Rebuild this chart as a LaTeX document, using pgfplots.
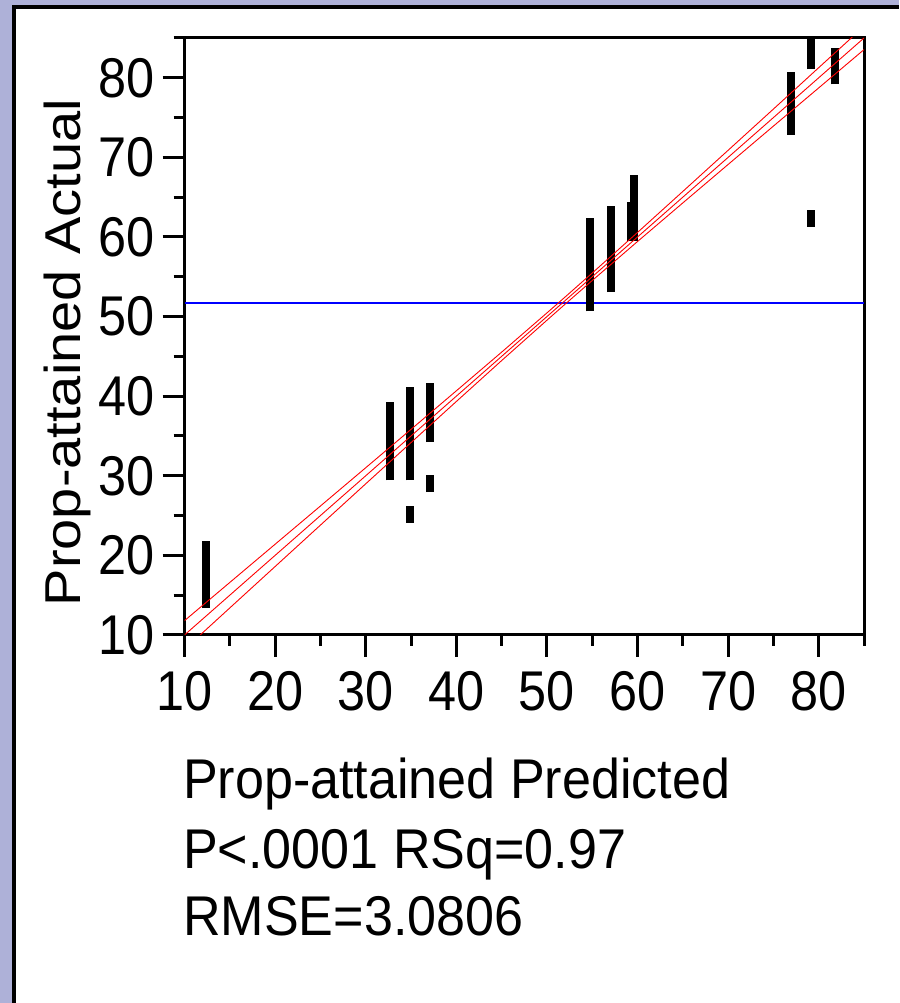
\documentclass[border=0pt]{standalone}
\usepackage{pgfplots}
\pgfplotsset{compat=1.18}
\usepackage{fontspec}
\setmainfont{Liberation Sans}[FakeStretch=0.9]
\newfontfamily\plainsans{Liberation Sans}
\newfontfamily\labelsans{Liberation Sans}[FakeStretch=0.93]
\definecolor{lav}{RGB}{174,177,216}
\begin{document}
\begin{tikzpicture}
\useasboundingbox (0pt,0pt) rectangle (899pt,1003pt);
\fill[white] (0pt,0pt) rectangle (899pt,1003pt);
\fill[lav] (0pt,0pt) rectangle (11.7pt,1003pt);
\fill[lav] (0pt,998pt) rectangle (899pt,1003pt);
\fill[black] (11.7pt,0pt) rectangle (15.7pt,998pt);
\fill[black] (11.7pt,994pt) rectangle (899pt,998pt);
\begin{axis}[
  at={(184.5pt,368pt)}, anchor=south west,
  scale only axis, width=679.5pt, height=597pt,
  xmin=10, xmax=85, ymin=10, ymax=85,
  xtick={10,20,...,80}, ytick={10,20,...,80},
  minor xtick={15,25,...,85}, minor ytick={15,25,...,85},
  tick pos=left, tick align=outside,
  major tick length=22pt, minor tick length=11pt,
  axis line style={line width=3pt},
  major tick style={black, line width=3pt},
  minor tick style={black, line width=3pt},
  tick label style={font=\fontsize{56}{60}\selectfont},
  xticklabel style={inner sep=14pt},
  yticklabel style={inner sep=8pt},
  /pgf/number format/assume math mode=true,
  unbounded coords=jump,
]
% mean of actual
\addplot[blue, line width=1.5pt] coordinates {(10,51.73) (85,51.73)};
% data clusters (vertical runs of overlapping points)
\addplot[black, line width=8pt, line cap=butt] coordinates {
 (12.37,13.38) (12.37,21.78) (0,nan)
 (32.63,29.42) (32.63,39.24) (0,nan)
 (34.89,29.42) (34.89,41.20) (0,nan)
 (34.89,24.07) (34.89,26.20) (0,nan)
 (37.10,34.22) (37.10,41.67) (0,nan)
 (37.10,27.96) (37.10,30.05) (0,nan)
 (54.76,50.64) (54.76,62.42) (0,nan)
 (57.02,53.07) (57.02,63.88) (0,nan)
 (59.32,59.50) (59.32,64.39) (0,nan)
 (59.65,59.50) (59.65,67.73) (0,nan)
 (76.91,72.87) (76.91,80.72) (0,nan)
 (79.18,81.09) (79.18,86.50) (0,nan)
 (79.18,61.29) (79.18,63.35) (0,nan)
 (81.80,79.17) (81.80,83.72)
};
% fit line and confidence curves
\addplot[red, line width=0.9pt] coordinates {(10,10) (85,85)};
\addplot[red, line width=0.9pt] coordinates {
 (10,11.80) (15,16.60) (20,21.40) (25,26.20) (30,31.01) (35,35.83) (40,40.67)
 (45,45.53) (50,50.46) (51.7,52.15) (55,55.47) (60,60.57) (65,65.72)
 (70,70.89) (75,76.07) (80,81.27) (85,86.46)};
\addplot[red, line width=0.9pt] coordinates {
 (10,8.20) (15,13.40) (20,18.60) (25,23.80) (30,28.99) (35,34.17) (40,39.33)
 (45,44.47) (50,49.54) (51.7,51.25) (55,54.53) (60,59.43) (65,64.28)
 (70,69.11) (75,73.93) (80,78.73) (85,83.54)};
\end{axis}
\node[anchor=base west, inner sep=0pt, font=\labelsans\fontsize{56}{60}\selectfont] at (183pt,204pt) {Prop-attained Predicted};
\node[anchor=base west, inner sep=0pt, font=\labelsans\fontsize{56}{60}\selectfont] at (183pt,134pt) {P<.0001 RSq=0.97};
\node[anchor=base west, inner sep=0pt, font=\labelsans\fontsize{56}{60}\selectfont] at (183pt,67pt) {RMSE=3.0806};
\begin{scope}[xscale=0.9]
\node[transform shape, rotate=90, anchor=base, inner sep=0pt, font=\plainsans\fontsize{56}{60}\selectfont] at (88.9pt,650.5pt) {Prop-attained Actual};
\end{scope}
\end{tikzpicture}
\end{document}
